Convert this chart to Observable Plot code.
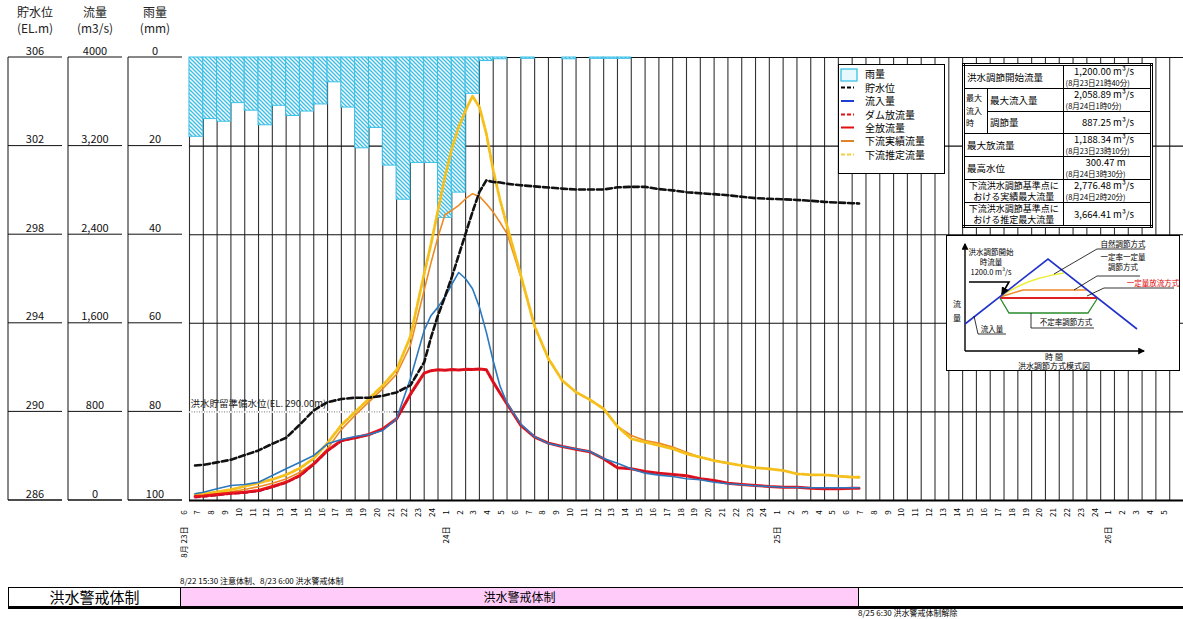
<!DOCTYPE html>
<html><head><meta charset="utf-8">
<script src="https://cdn.jsdelivr.net/npm/d3@7"></script>
<script src="https://cdn.jsdelivr.net/npm/@observablehq/plot@0.6"></script>
<style>
body{margin:0;background:#fff;overflow:hidden;font-family:"Noto Sans CJK JP",sans-serif;}
#wrap{position:relative;width:1183px;height:619px;overflow:hidden;}
#wrap > svg.mainchart{position:absolute;left:0;top:0;}
.hdr{position:absolute;text-align:center;font-size:12px;line-height:16px;color:#222;}
svg#legend{position:absolute;left:838px;top:64px;}
#tbl{position:absolute;left:962px;top:63px;width:191px;height:160px;border-collapse:collapse;border:3px double #000;background:#fff;font-size:9.5px;line-height:11px;}
#tbl td{border:1px solid #000;padding:0 2px;}
#tbl td.r{text-align:right;padding-right:16px;}
#tbl td.c{text-align:center;font-size:9px;}
#tbl td.s{width:20px;font-size:8px;line-height:12.5px;padding:0 1px;}
#tbl .d{text-align:left;font-size:7.5px;padding-left:0;}
svg#inset{position:absolute;left:946px;top:235px;background:#fff;border:1px solid #000;}
.small{position:absolute;font-size:8px;white-space:nowrap;}
#band{position:absolute;left:8px;top:587px;width:1175px;height:18px;border-top:1px solid #000;border-bottom:3px solid #000;border-left:1px solid #000;}
#band div{position:absolute;top:0;height:18px;line-height:18px;text-align:center;}
</style></head><body><div id="wrap"></div>
<script>
// ---- data ----
const hours = [0.4,1,2,3,4,5,6,7,8,9,10,11,12,13,14,15,16,17,17.5,18,18.5,19,19.5,20,20.5,21,21.5,22,22.5,23,24,25,26,27,28,29,30,31,32,33,34,35,36,37,38,39,40,41,42,43,44,45,46,47,48,48.5];
const waterLevel = [287.58,287.61,287.72,287.84,288.05,288.26,288.56,288.83,289.43,290.07,290.44,290.58,290.64,290.64,290.73,290.88,291.2,292.24,293.38,294.36,295.19,296.09,297.07,298.05,299.03,299.93,300.45,300.38,300.36,300.3,300.23,300.18,300.13,300.08,300.04,300.04,300.04,300.14,300.16,300.16,300.06,300.0,299.92,299.87,299.83,299.78,299.71,299.65,299.62,299.6,299.57,299.53,299.48,299.45,299.42,299.41];
const inflow = [61,75,106,136,145,165,226,286,346,407,512,551,578,596,632,738,1100,1536,1671,1746,1837,1951,2059,2002,1912,1746,1520,1260,1030,880,690,575,515,488,465,442,380,337,286,247,229,217,196,187,165,151,142,133,126,120,117,115,115,115,115,115];
const damRelease = [25,32,45,58,68,82,118,158,218,322,445,536,562,592,642,730,950,1150,1172,1180,1176,1182,1179,1184,1182,1188,1180,1069,969,873,678,572,518,488,463,440,377,295,286,262,247,235,223,196,181,156,145,136,126,120,120,111,106,106,111,111];
const totalRelease = [36,40,54,66,75,90,126,165,226,331,452,542,566,596,647,738,960,1150,1172,1180,1176,1182,1179,1184,1182,1188,1180,1069,969,873,678,572,518,488,463,440,377,295,286,262,247,235,223,196,181,156,145,136,126,120,120,111,106,106,111,111];
const downstreamActual = [40,48,62,78,100,125,155,195,255,335,470,640,770,890,1010,1140,1400,1900,2150,2380,2580,2620,2665,2725,2770,2746,2680,2604,2510,2410,2020,1572,1280,1084,978,910,828,668,587,542,518,482,436,391,361,337,316,295,286,271,241,232,232,220,211,208];
const downstreamEstimated = [55,62,78,98,128,158,190,232,292,380,520,680,800,920,1040,1180,1480,2048,2319,2620,2921,3177,3372,3523,3650,3553,3313,2981,2710,2480,2033,1572,1280,1084,978,910,828,668,557,527,497,467,422,391,361,337,316,295,286,271,241,232,232,220,211,210];
const rain = [17.9,13.9,14.5,10.3,12.0,15.3,10.9,13.2,12.2,10.6,5.6,11.3,20.5,15.9,24.4,32.1,23.8,23.8,36.2,30.5,8.2,0.8,0.4,0,0.3,0,0,0.4,0,0.3,0.3,0.3];
const levelTicks = ["306","302","298","294","290","286"];
const flowTicks = ["4000","3,200","2,400","1,600","800","0"];
const rainTicks = ["0","20","40","60","80","100"];
const flowTickValues = [4000,3200,2400,1600,800,0];
const hourLabels = "6 7 8 9 10 11 12 13 14 15 16 17 18 19 20 21 22 23 24 1 2 3 4 5 6 7 8 9 10 11 12 13 14 15 16 17 18 19 20 21 22 23 24 1 2 3 4 5 6 7 8 9 10 11 12 13 14 15 16 17 18 19 20 21 22 23 24 1 2 3 4 5".split(" ");
const dayLabels = ["8月 23日","24日","25日","26日"];
const dayHours = [0,19,43,67];

// ---- helpers ----
const lvl2flow = v => (v - 286) * 200;
const rows = arr => hours.map((t, i) => ({t, v: arr[i]}));
const rainRows = rain.map((r, k) => ({k, r}));

const chart = Plot.plot({
  width: 1183, height: 560,
  marginTop: 57, marginBottom: 60, marginLeft: 189, marginRight: 0,
  x: {domain: [0, 72], axis: null},
  y: {domain: [0, 4000], axis: null},
  style: {fontFamily: '"Noto Sans CJK JP", sans-serif', background: "transparent", overflow: "visible"},
  marks: [
    Plot.ruleX(d3.range(0, 72), {stroke: "#333", strokeWidth: 1.1}),
    Plot.ruleY(flowTickValues.slice(0, 5), {stroke: "#111", strokeWidth: 1.1}),
    Plot.ruleY([800], {x1: 0, x2: 14.8, stroke: "#fff", strokeWidth: 2}),
    Plot.ruleY([800], {x1: 0, x2: 14.8, stroke: "#777", strokeWidth: 1, strokeDasharray: "1,1.5"}),
    Plot.text(["洪水貯留準備水位(EL. 290.00m)"], {x: 0, y: 800, dx: 1, dy: -8, textAnchor: "start", fontSize: 9.5, fill: "#222"}),
    Plot.rect(rainRows, {x1: "k", x2: d => d.k + 1, y1: 4000, y2: d => 4000 - d.r * 40, fill: "url(#rainHatch)", stroke: "#3cbfe6", strokeWidth: 1}),
    Plot.ruleY([0], {stroke: "#000", strokeWidth: 2.2}),
    Plot.line(rows(downstreamActual), {x: "t", y: "v", stroke: "#ec8a24", strokeWidth: 1.6}),
    Plot.line(rows(downstreamEstimated), {x: "t", y: "v", stroke: "#f6c01c", strokeWidth: 2.8, strokeDasharray: "7,2"}),
    Plot.line(rows(totalRelease), {x: "t", y: "v", stroke: "#ee1515", strokeWidth: 3}),
    Plot.line(rows(damRelease), {x: "t", y: "v", stroke: "#c8102e", strokeWidth: 1.6, strokeDasharray: "5,3"}),
    Plot.line(rows(inflow), {x: "t", y: "v", stroke: "#2a78c0", strokeWidth: 1.6}),
    Plot.line(rows(waterLevel.map(lvl2flow)), {x: "t", y: "v", stroke: "#111", strokeWidth: 2.6, strokeDasharray: "6,3"}),
    Plot.text(hourLabels, {x: (d, i) => i, text: d => d, frameAnchor: "bottom", rotate: -90, dy: 12, dx: -3, textAnchor: "middle", fontSize: 8, fill: "#000"}),
    Plot.text(dayLabels, {x: (d, i) => dayHours[i], text: d => d, frameAnchor: "bottom", rotate: -90, dy: 26, dx: -3, textAnchor: "end", fontSize: 8, fill: "#000"})
  ]
});
chart.classList.add("mainchart");

d3.select(chart).insert("defs", ":first-child").html(
  `<pattern id="rainHatch" patternUnits="userSpaceOnUse" width="4" height="4">
     <rect width="4" height="4" fill="#fff"/>
     <path d="M-1,-1 L5,5 M-1,3 L1,5 M3,-1 L5,1" stroke="#3cbfe6" stroke-width="1.4"/>
   </pattern>`);

// left axis panels, placed with Plot's own y scale
const ys = chart.scale("y");
const panels = [
  {x0: 8, x1: 62, labels: levelTicks},
  {x0: 68, x1: 122, labels: flowTicks},
  {x0: 128, x1: 182, labels: rainTicks}
];
const g = d3.select(chart).append("g").attr("font-family", '"Noto Sans CJK JP", sans-serif');
for (const p of panels) {
  g.append("line").attr("x1", p.x0).attr("x2", p.x0)
    .attr("y1", ys.apply(4000)).attr("y2", ys.apply(0)).attr("stroke", "#111");
  p.labels.forEach((lab, i) => {
    const y = ys.apply(flowTickValues[i]);
    g.append("line").attr("x1", p.x0).attr("x2", p.x1).attr("y1", y).attr("y2", y)
      .attr("stroke", "#111").attr("stroke-width", i === 5 ? 1.6 : 1);
    g.append("text").attr("x", (p.x0 + p.x1) / 2).attr("y", y - 2.5)
      .attr("text-anchor", "middle").attr("font-size", 11).attr("fill", "#111").text(lab);
  });
}

const wrap = document.getElementById("wrap");
wrap.appendChild(chart);

wrap.insertAdjacentHTML("beforeend", `
<div class="hdr" style="left:5px;width:60px;top:4px">貯水位<br>(EL.m)</div>
<div class="hdr" style="left:65px;width:60px;top:4px">流量<br>(m3/s)</div>
<div class="hdr" style="left:125px;width:60px;top:4px">雨量<br>(mm)</div>

<svg id="legend" width="107" height="110" font-size="10" font-family="Noto Sans CJK JP">
 <rect x="0.5" y="0.5" width="106" height="109" fill="#fff" stroke="#000"/>
 <rect x="3" y="5" width="16" height="12" fill="#e8f9fd" stroke="#3cbfe6" stroke-width="1.3"/>
 <text x="27" y="14">雨量</text>
 <line x1="3" x2="16" y1="23.5" y2="23.5" stroke="#000" stroke-width="2" stroke-dasharray="4,2"/>
 <text x="27" y="27.5">貯水位</text>
 <line x1="3" x2="16" y1="37" y2="37" stroke="#1f3fd0" stroke-width="2"/>
 <text x="27" y="41">流入量</text>
 <line x1="3" x2="16" y1="50.5" y2="50.5" stroke="#e01010" stroke-width="2" stroke-dasharray="4,2"/>
 <text x="27" y="54.5">ダム放流量</text>
 <line x1="3" x2="16" y1="63.5" y2="63.5" stroke="#e01010" stroke-width="2"/>
 <text x="27" y="67.5">全放流量</text>
 <line x1="3" x2="16" y1="77" y2="77" stroke="#e0822a" stroke-width="2"/>
 <text x="27" y="81">下流実績流量</text>
 <line x1="3" x2="16" y1="90.5" y2="90.5" stroke="#f2d040" stroke-width="2" stroke-dasharray="4,2"/>
 <text x="27" y="94.5">下流推定流量</text>
</svg>

<table id="tbl">
 <tr style="height:23px"><td colspan="2">洪水調節開始流量</td><td class="r">1,200.00 m³/s<div class="d">(8月23日21時40分)</div></td></tr>
 <tr style="height:22px"><td rowspan="2" class="s">最大<br>流入<br>時</td><td>最大流入量</td><td class="r">2,058.89 m³/s<div class="d">(8月24日1時0分)</div></td></tr>
 <tr style="height:22px"><td>調節量</td><td class="r">887.25 m³/s</td></tr>
 <tr style="height:23px"><td colspan="2">最大放流量</td><td class="r">1,188.34 m³/s<div class="d">(8月23日23時10分)</div></td></tr>
 <tr style="height:23px"><td colspan="2">最高水位</td><td class="r">300.47 m&nbsp;&nbsp;&nbsp;&nbsp;<div class="d">(8月24日3時30分)</div></td></tr>
 <tr style="height:23px"><td colspan="2" class="c">下流洪水調節基準点に<br>おける実績最大流量</td><td class="r">2,776.48 m³/s<div class="d">(8月24日2時20分)</div></td></tr>
 <tr style="height:22px"><td colspan="2" class="c">下流洪水調節基準点に<br>おける推定最大流量</td><td class="r">3,664.41 m³/s</td></tr>
</table>

<svg id="inset" width="232" height="134" font-family="Noto Sans CJK JP" font-size="7.5">
 <defs><marker id="ar" viewBox="0 0 6 6" refX="5" refY="3" markerWidth="5" markerHeight="5" orient="auto"><path d="M0,0 L6,3 L0,6 z" fill="#000"/></marker></defs>
 <line x1="18" y1="115" x2="18" y2="8" stroke="#000" stroke-width="1.4" marker-end="url(#ar)"/>
 <line x1="18" y1="115" x2="197" y2="115" stroke="#000" stroke-width="1.4" marker-end="url(#ar)"/>
 <path d="M53,61 Q80,42 117,37" stroke="#eeee40" fill="none" stroke-width="1.5"/>
 <path d="M53,61 L76,54 L140,54" stroke="#f08a2a" fill="none" stroke-width="1.5"/>
 <path d="M53,62 L150,62" stroke="#e02020" stroke-width="1.8"/>
 <path d="M53,62 L62,77 L141,77 L150,63" stroke="#2a8a2a" fill="none" stroke-width="1.3"/>
 <path d="M18,88 L101,23 L190,93" stroke="#2233cc" fill="none" stroke-width="1.6"/>
 <path d="M22,46 L62,46 L55,58" stroke="#000" fill="none" stroke-width="1.6" marker-end="url(#ar)"/>
 <text x="44" y="19" text-anchor="middle">洪水調節開始</text>
 <text x="44" y="29" text-anchor="middle">時流量</text>
 <text x="44" y="39" text-anchor="middle">1200.0 m³/s</text>
 <path d="M107,38 L150,13 L198,13" stroke="#000" fill="none" stroke-width="0.8"/>
 <text x="176" y="11" text-anchor="middle">自然調節方式</text>
 <text x="176" y="24" text-anchor="middle">一定率一定量</text>
 <text x="176" y="34" text-anchor="middle">調節方式</text>
 <path d="M127,54 L150,40 L193,40" stroke="#000" fill="none" stroke-width="0.8"/>
 <path d="M140,60 L157,52 L227,52" stroke="#000" fill="none" stroke-width="0.8"/>
 <text x="206" y="50" text-anchor="middle" fill="#e00000">一定量放流方式</text>
 <path d="M84,77 L84,92 L147,92" stroke="#000" fill="none" stroke-width="0.8"/>
 <text x="119" y="89" text-anchor="middle">不定率調節方式</text>
 <path d="M27,80 L31,98 L59,98" stroke="#000" fill="none" stroke-width="0.8"/>
 <text x="45" y="96" text-anchor="middle">流入量</text>
 <text x="10" y="71" text-anchor="middle" font-size="8">流</text>
 <text x="10" y="85" text-anchor="middle" font-size="8">量</text>
 <text x="107" y="124" text-anchor="middle" font-size="8">時 間</text>
 <text x="107" y="133" text-anchor="middle" font-size="8">洪水調節方式模式図</text>
</svg>

<div class="small" style="left:180px;top:575px">8/22 15:30 注意体制、8/23 6:00 洪水警戒体制</div>
<div id="band">
 <div style="left:0;width:171px;font-size:15px;border-right:1px solid #000">洪水警戒体制</div>
 <div style="left:172px;width:677px;background:#ffccfa;font-size:12px;border-right:1px solid #000">洪水警戒体制</div>
</div>
<div class="small" style="left:858px;top:607px">8/25 6:30 洪水警戒体制解除</div>
`);
</script>
</body></html>
